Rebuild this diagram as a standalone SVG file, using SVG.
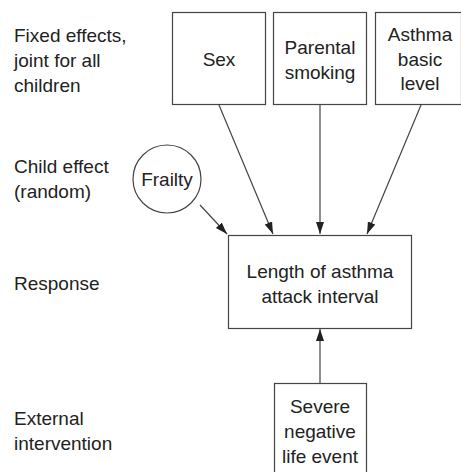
<svg xmlns="http://www.w3.org/2000/svg" width="461" height="472" viewBox="0 0 461 472">
<style>
text{font-family:"Liberation Sans",Arial,sans-serif;font-size:19px;fill:#222}
.n{text-anchor:middle}
.b{fill:#fff;stroke:#444;stroke-width:1.2}
.c{stroke:#444;stroke-width:1.2;fill:none}
</style>
<defs>
<marker id="ah" viewBox="0 0 12 10" refX="12" refY="5" markerWidth="12" markerHeight="10" markerUnits="userSpaceOnUse" orient="auto">
<path d="M0,1 L12,5 L0,9 z" fill="#222"/>
</marker>
</defs>
<g id="labels">
<text x="14" y="42">Fixed effects,</text>
<text x="14" y="67">joint for all</text>
<text x="14" y="92">children</text>
<text x="14" y="173">Child effect</text>
<text x="14" y="198">(random)</text>
<text x="14" y="290">Response</text>
<text x="14" y="425">External</text>
<text x="14" y="450">intervention</text>
</g>
<g id="sex"><rect class="b" x="172.5" y="12.5" width="93" height="92"/><text class="n" x="219" y="66">Sex</text></g>
<g id="smoking"><rect class="b" x="273.5" y="12.5" width="93" height="92"/><text class="n" x="320" y="54">Parental</text><text class="n" x="320" y="79">smoking</text></g>
<g id="basic"><rect class="b" x="375.5" y="12.5" width="86" height="92"/><text class="n" x="420" y="41">Asthma</text><text class="n" x="420" y="66">basic</text><text class="n" x="420" y="90">level</text></g>
<g id="frailty"><circle class="b" cx="167" cy="179" r="34"/><text class="n" x="167" y="186">Frailty</text></g>
<g id="response"><rect class="b" x="228.5" y="235.5" width="183" height="93"/><text class="n" x="320" y="278">Length of asthma</text><text class="n" x="320" y="303">attack interval</text></g>
<g id="event"><rect class="b" x="274.5" y="383.5" width="92" height="92"/><text class="n" x="320" y="413">Severe</text><text class="n" x="320" y="438">negative</text><text class="n" x="320" y="463">life event</text></g>
<g id="connectors">
<line class="c" x1="219" y1="105" x2="273" y2="234" marker-end="url(#ah)"/>
<line class="c" x1="320" y1="105" x2="320" y2="234" marker-end="url(#ah)"/>
<line class="c" x1="421" y1="105" x2="367" y2="234" marker-end="url(#ah)"/>
<line class="c" x1="200" y1="205" x2="227" y2="234" marker-end="url(#ah)"/>
<line class="c" x1="320" y1="383" x2="320" y2="329" marker-end="url(#ah)"/>
</g>
</svg>
